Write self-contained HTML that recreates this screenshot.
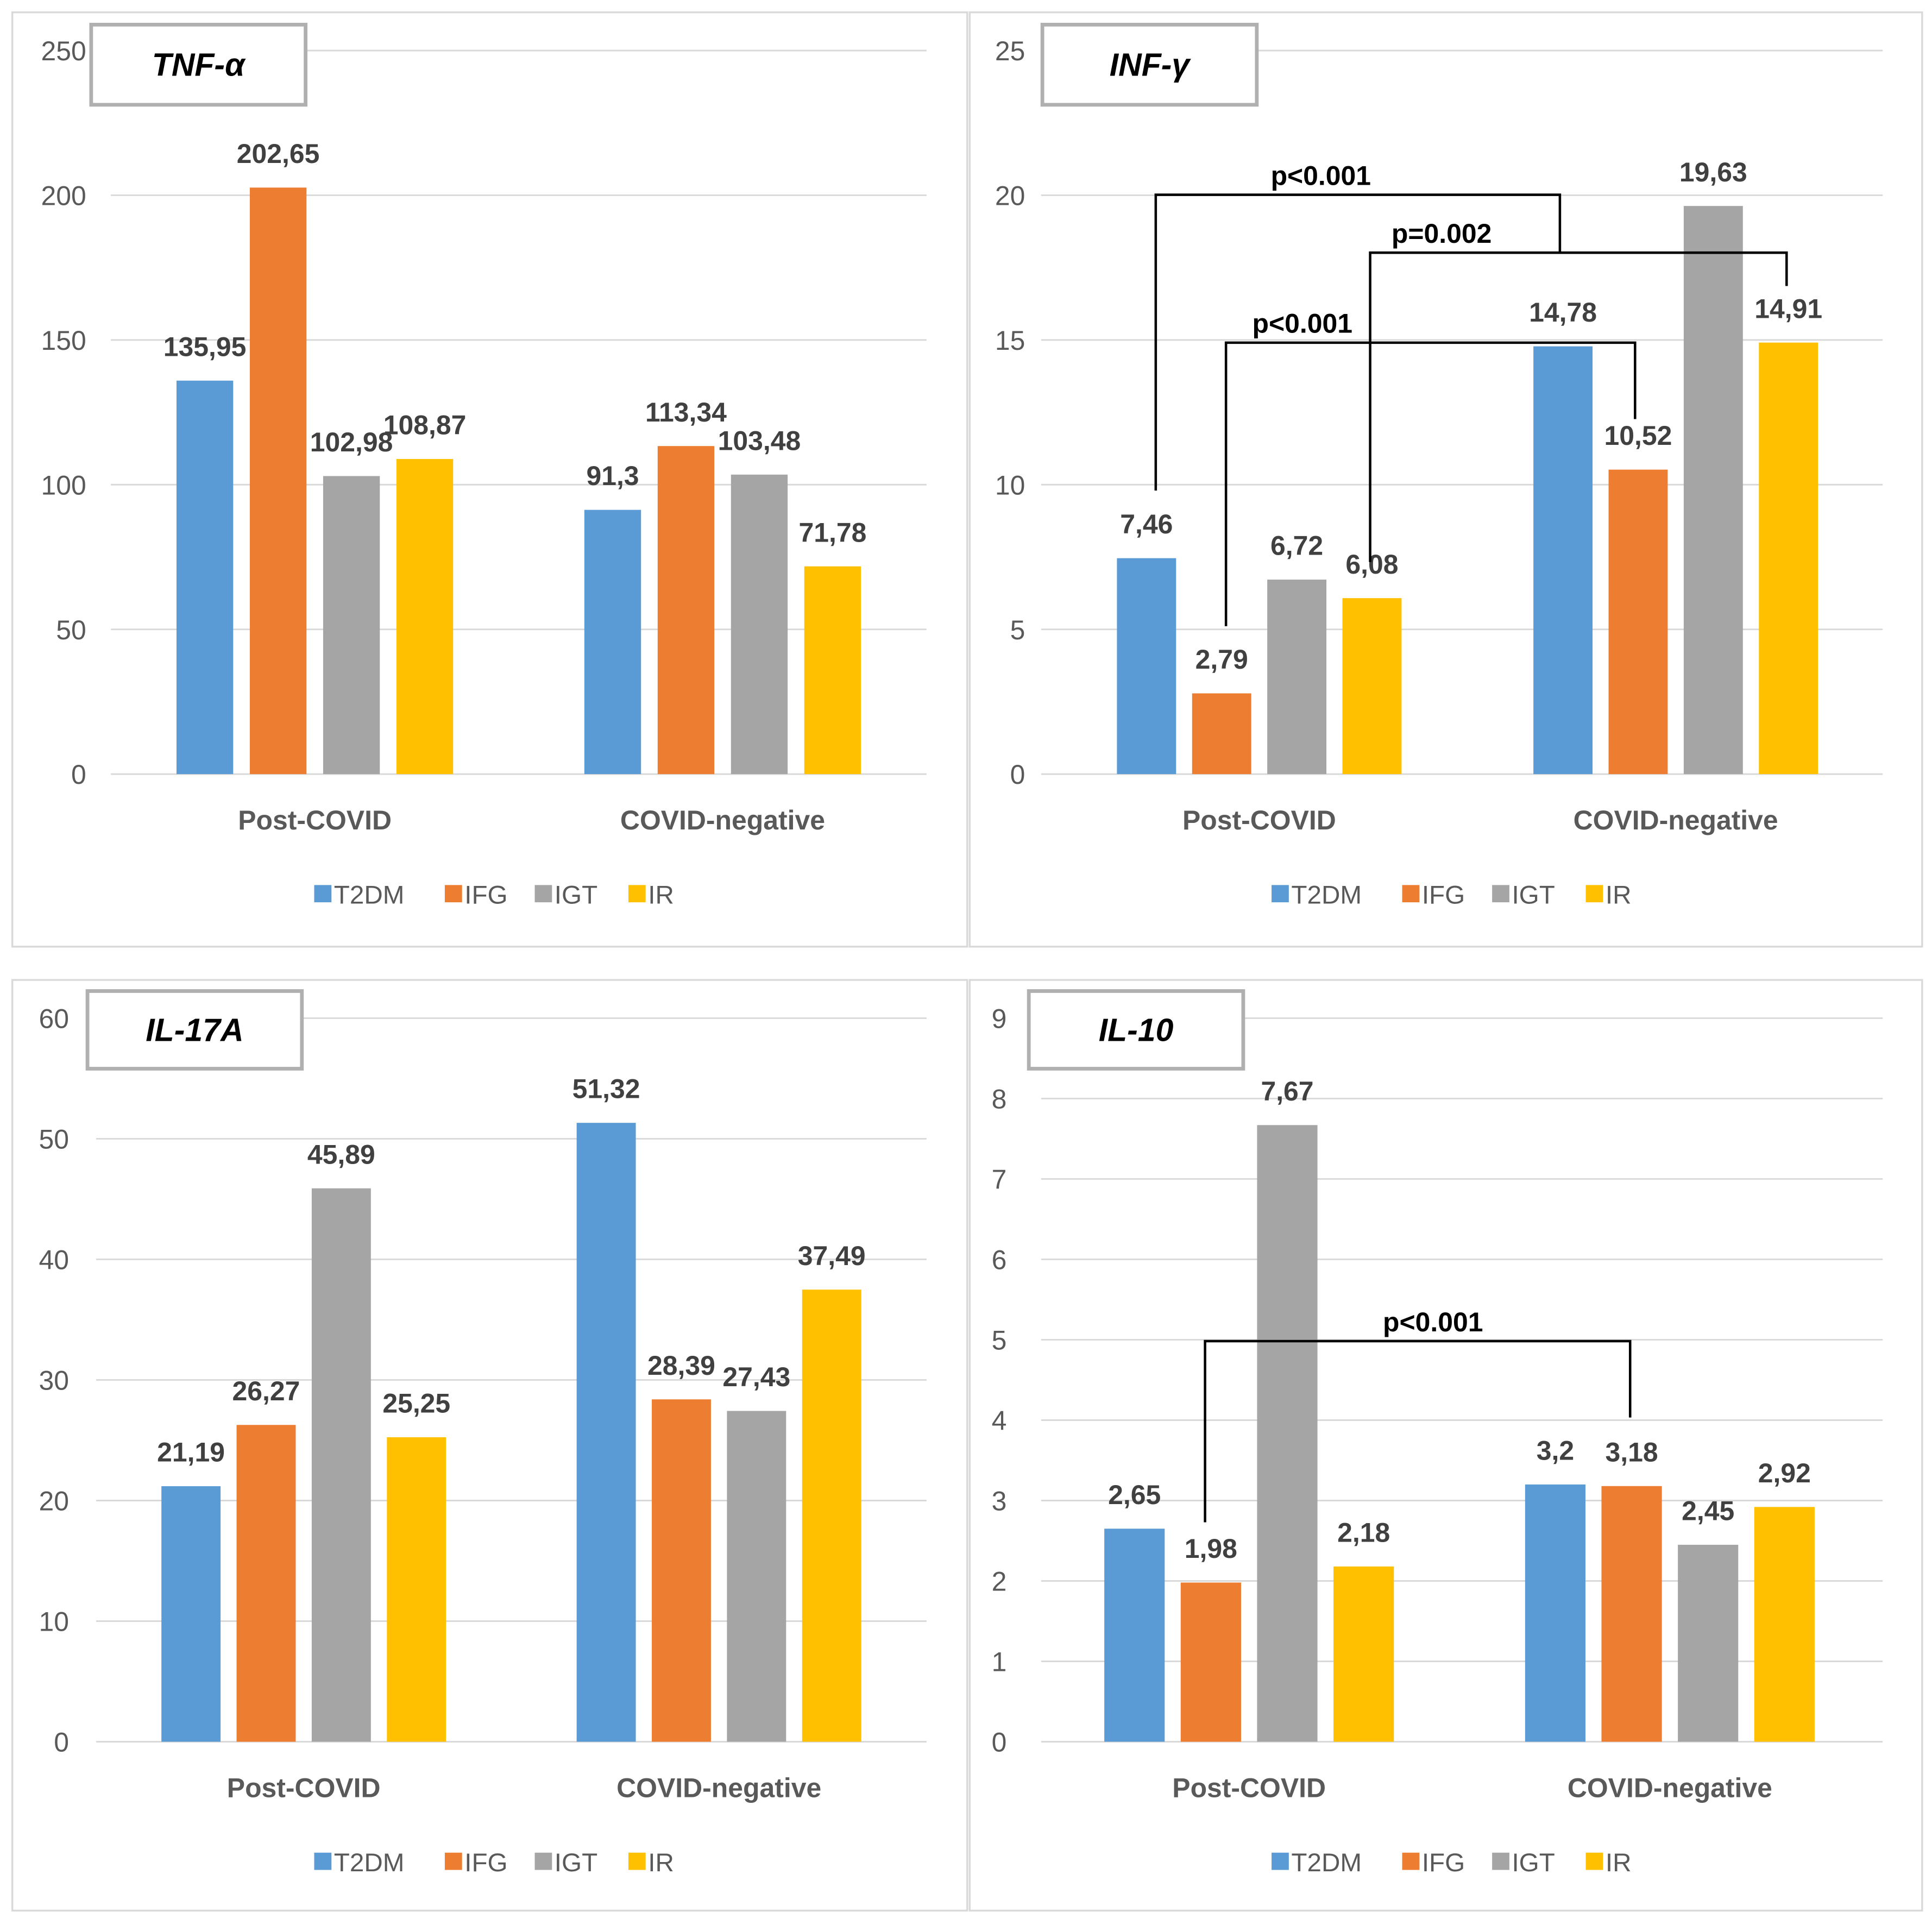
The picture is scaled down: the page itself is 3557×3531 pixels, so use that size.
<!DOCTYPE html>
<html><head><meta charset="utf-8"><style>
html,body{margin:0;padding:0;background:#fff;}
svg{display:block;}
text{font-family:"Liberation Sans",sans-serif;}
</style></head><body>
<svg id="s" width="3557" height="3531" viewBox="0 0 1568 1556" preserveAspectRatio="none" xmlns="http://www.w3.org/2000/svg"></svg>
<script>
const NS="http://www.w3.org/2000/svg";
const svg=document.getElementById('s');
const seriesNames=["T2DM","IFG","IGT","IR"];
const colors=["#5B9BD5","#ED7D31","#A5A5A5","#FFC000"];
const categories=["Post-COVID","COVID-negative"];
const tnfValues=[[135.95,91.3],[202.65,113.34],[102.98,103.48],[108.87,71.78]];
const tnfTicks=[0,50,100,150,200,250];
const infValues=[[7.46,14.78],[2.79,10.52],[6.72,19.63],[6.08,14.91]];
const infTicks=[0,5,10,15,20,25];
const il17Values=[[21.19,51.32],[26.27,28.39],[45.89,27.43],[25.25,37.49]];
const il17Ticks=[0,10,20,30,40,50,60];
const il10Values=[[2.65,3.2],[1.98,3.18],[7.67,2.45],[2.18,2.92]];
const il10Ticks=[0,1,2,3,4,5,6,7,8,9];

function el(tag,attrs,parent,txt){const e=document.createElementNS(NS,tag);for(const k in attrs)e.setAttribute(k,attrs[k]);if(txt!==undefined)e.textContent=txt;(parent||svg).appendChild(e);return e;}
function fmt(v){return String(v).replace('.',',');}

const panels=[
 {name:'tnf',title:'TNF-α',vals:tnfValues,ticks:tnfTicks,box:[10,10,775,758],gx0:90,gx1:752,bx0:90,bx1:752,y0:628,yTop:41,labX:70,tb:[74,20,174,65],bw:46,step:59.5,catY:665,legY:725,
  brackets:[]},
 {name:'inf',title:'INF-γ',vals:infValues,ticks:infTicks,box:[787,10,773,758],gx0:845,gx1:1528,bx0:853,bx1:1529,y0:628,yTop:41,labX:832,tb:[846,20,174,65],bw:48,step:61,catY:665,legY:725,
  brackets:[[938,1266,'p<0.001',1072,158,398,205],[1112,1450,'p=0.002',1170,205,456,232],[995,1327,'p<0.001',1057,278,508,340]]},
 {name:'il17',title:'IL-17A',vals:il17Values,ticks:il17Ticks,box:[10,795,775,755],gx0:78,gx1:752,bx0:78,bx1:752,y0:1413,yTop:826,labX:56,tb:[71,804,174,63],bw:48,step:61,catY:1450,legY:1510,
  brackets:[]},
 {name:'il10',title:'IL-10',vals:il10Values,ticks:il10Ticks,box:[787,795,773,755],gx0:845,gx1:1528,bx0:843,bx1:1526,y0:1413,yTop:826,labX:817,tb:[835,804,174,63],bw:49,step:62,catY:1450,legY:1510,
  brackets:[[978,1323,'p<0.001',1163,1088,1235,1150]]}
];

panels.forEach(p=>{
 const g=el('g',{});
 
 
 el('rect',{x:p.box[0],y:p.box[1],width:p.box[2],height:p.box[3],fill:'#fff',stroke:'#d9d9d9','stroke-width':1.5},g);
 const maxT=p.ticks[p.ticks.length-1];
 const yS=v=>p.y0-(v/maxT)*(p.y0-p.yTop);
 const catW=(p.bx1-p.bx0)/categories.length;
 const cx=i=>p.bx0+catW*(i+0.5);
 const bx=(c,s)=>cx(c)+(s-1.5)*p.step-p.bw/2;
 p.ticks.forEach(t=>{
  const l=el('line',{x1:p.gx0,x2:p.gx1,y1:yS(t),y2:yS(t),stroke:'#d9d9d9','stroke-width':1.3},g);
  
  
  const tx=el('text',{x:p.labX,y:yS(t)+8,'text-anchor':'end','font-size':22,fill:'#595959'},g,t);
  
  
 });
 p.vals.forEach((ser,s)=>ser.forEach((v,c)=>{
  const r=el('rect',{x:bx(c,s),y:yS(v),width:p.bw,height:p.y0-yS(v),fill:colors[s]},g);
  
  
  const t=el('text',{x:bx(c,s)+p.bw/2,y:yS(v)-20,'text-anchor':'middle','font-size':22,'font-weight':'bold',fill:'#404040'},g,fmt(v));
  
  
 }));
 categories.forEach((c,i)=>{
  const t=el('text',{x:cx(i),y:p.catY+8,'text-anchor':'middle','font-size':22,'font-weight':'bold',fill:'#595959'},g,c);
  
  
 });
 const lx=[255,361,434,510].map(x=>x+(p.box[0]-10));
 seriesNames.forEach((n,i)=>{
  const r=el('rect',{x:lx[i],y:p.legY-7,width:14,height:14,fill:colors[i]},g);
  
  
  const t=el('text',{x:lx[i]+16,y:p.legY+8,'font-size':21,fill:'#595959'},g,n);
  
  
 });
 const tb=el('rect',{x:p.tb[0],y:p.tb[1],width:p.tb[2],height:p.tb[3],fill:'#fff',stroke:'#b0b0b0','stroke-width':3},g);
 
 
 const tt=el('text',{x:p.tb[0]+p.tb[2]/2,y:p.tb[1]+p.tb[3]/2+9,'text-anchor':'middle','font-size':26,'font-weight':'bold','font-style':'italic',fill:'#000'},g,p.title);
 
 
 p.brackets.forEach(b=>{
  const x1=b[0], x2=b[1];
  const pl=el('polyline',{points:`${x1},${b[5]} ${x1},${b[4]} ${x2},${b[4]} ${x2},${b[6]}`,fill:'none',stroke:'#000','stroke-width':2},g);
  
  
  const t=el('text',{x:b[3],y:b[4]-8,'text-anchor':'middle','font-size':22,'font-weight':'bold',fill:'#000'},g,b[2]);
  
  
 });
});
</script>
</body></html>
